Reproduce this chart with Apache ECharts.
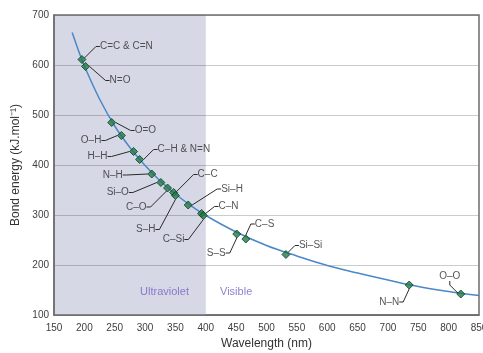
<!DOCTYPE html>
<html><head><meta charset="utf-8">
<script src="https://cdn.jsdelivr.net/npm/echarts@6/dist/echarts.min.js"></script>
<style>html,body{margin:0;padding:0;background:#fff}#c{width:483px;height:353px}</style>
</head><body><div id="c"></div>
<script>
// ---- data ----
var xMin = 150, xMax = 850, xStep = 50;
var yMin = 100, yMax = 700, yStep = 100;
var bondNames = ['C=C & C=N','N=O','O=O','O–H','H–H','C–H & N=N','N–H','Si–O','C–O','C–C','S–H','Si–H','C–N','C–Si','S–S','C–S','Si–Si','N–N','O–O'];
var bondWavelength = [196,202,245,261,281,291,311,326,337,347,350,371,393,396,451,466,532,735,820];
var bondEnergy = [611,597,485,459,427,411,382,365,354,345,339,320,303,299,262,252,221,160,142];
var curveWavelength = [180,190,200,225,250,275,300,325,350,375,400,450,500,550,600,650,700,750,800,850];
var curveEnergy = [665,630,598,532,478,435,399,368,342,319,299,266,239,218,199,184,170,157,147,139];
var uvRange = [150, 400];
var regionNames = ['Ultraviolet', 'Visible'];
var regionWavelength = [332, 450];
var regionEnergy = [147, 147];

// ---- label placement (pixels relative to the marker: side, dx, dy) ----
var labelPlacement = [
  ['L',18,-13],['L',24,14],['L',23,8],['R',-20,5],['R',-26,5],['L',18,-10],
  ['R',-29,1],['R',-32,10],['R',-21,19],['L',24,-18],['R',-20,34],['L',33,-16],
  ['L',17,-7],['R',-19,24],['R',-11,19],['L',9,-15],['L',13,-9],['R',-10,17],['C',-11,-18]
];

var FONT = '"Liberation Sans", Arial, sans-serif';
var chart = echarts.init(document.getElementById('c'), null, {renderer:'canvas'});

var bondData = bondNames.map(function(n,i){ return {name:n, value:[bondWavelength[i], bondEnergy[i]]}; });
var curveData = curveWavelength.map(function(x,i){ return [x, curveEnergy[i]]; });
var regionData = regionNames.map(function(n,i){ return {name:n, value:[regionWavelength[i], regionEnergy[i]]}; });

chart.setOption({
  animation:false,
  textStyle:{fontFamily:FONT},
  grid:{left:54,right:4,top:15,bottom:38,outerBoundsMode:'none',containLabel:false,
    show:true,borderColor:'#6e6e6e',borderWidth:1.5,z:5},
  xAxis:{type:'value',min:xMin,max:xMax,interval:xStep,
    name:'Wavelength (nm)',nameLocation:'middle',nameGap:21,
    nameTextStyle:{fontSize:12,color:'#333',fontFamily:FONT},
    axisLine:{lineStyle:{color:'#6e6e6e',width:1.5}},axisTick:{show:false},
    axisLabel:{fontSize:10,color:'#404040',margin:8,fontFamily:FONT,hideOverlap:false},
    splitLine:{show:false}},
  yAxis:{type:'value',min:yMin,max:yMax,interval:yStep,z:2,
    name:'Bond energy (kJ.mol⁻¹)',nameLocation:'middle',nameGap:32,
    nameTextStyle:{fontSize:12,color:'#333',fontFamily:FONT},
    axisLine:{show:true,lineStyle:{color:'#6e6e6e',width:1.5}},axisTick:{show:false},
    axisLabel:{fontSize:10,color:'#404040',margin:5,fontFamily:FONT},
    splitLine:{show:true,lineStyle:{color:'rgba(0,0,0,0.2)',width:1}}},
  series:[
    {type:'line',data:curveData,smooth:0.4,symbol:'none',z:3,
     lineStyle:{color:'#4a88c8',width:1.5},
     markArea:{silent:true,z:1,itemStyle:{color:'#d6d8e6'},
       data:[[{xAxis:uvRange[0]},{xAxis:uvRange[1]}]]}},
    {type:'scatter',data:bondData,symbol:'diamond',symbolSize:8,z:4,
     itemStyle:{color:'#227a48',borderColor:'#0b3f20',borderWidth:1},
     label:{show:true,position:'inside',formatter:function(p){return p.name;},fontSize:10,color:'#2a2a2a',fontFamily:FONT},
     labelLine:{show:true,length2:4,lineStyle:{color:'#2a2a2a',width:1}},
     labelLayout:function(p){
       var o = labelPlacement[p.dataIndex];
       var cx = p.rect.x + p.rect.width/2, cy = p.rect.y + p.rect.height/2;
       var al = o[0]==='L' ? 'left' : (o[0]==='R' ? 'right' : 'center');
       return {x:cx+o[1], y:cy+o[2], align:al, verticalAlign:'middle'};
     }},
    {type:'scatter',data:regionData,symbolSize:0,z:4,silent:true,
     label:{show:true,position:'inside',formatter:function(p){return p.name;},fontSize:11,color:'#7462c4',fontFamily:FONT}}
  ]
});
</script></body></html>
